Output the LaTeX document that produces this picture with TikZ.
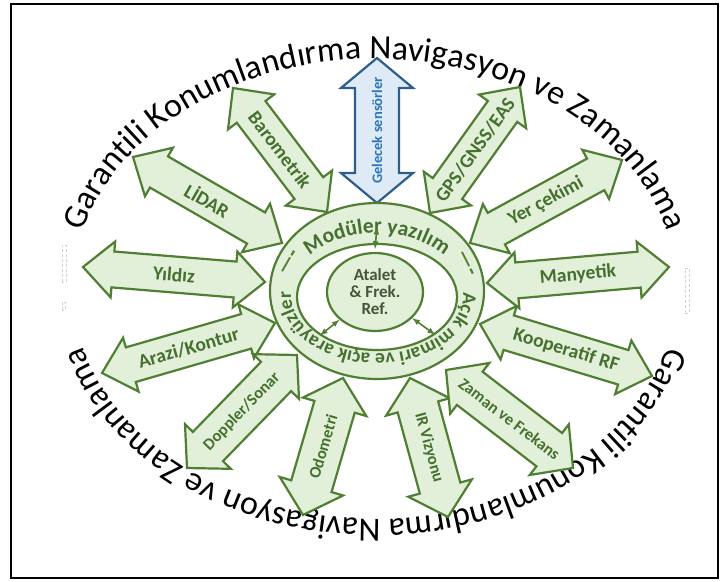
\documentclass[tikz,border=0pt]{standalone}
\usepackage{fontspec}
\setmainfont{Carlito}
\usetikzlibrary{shapes.geometric, decorations.text}

\definecolor{leaf}{HTML}{E2EFD9}
\definecolor{leafline}{HTML}{507E32}
\definecolor{leaftext}{HTML}{46702F}
\definecolor{sky}{HTML}{DEEBF7}
\definecolor{skyline}{HTML}{2F5D8A}
\definecolor{skytext}{HTML}{2E74B5}
\definecolor{coretext}{HTML}{44553A}

\newcommand{\titlesize}{\fontsize{34}{36}\selectfont}
\newcommand{\ringsize}{\bfseries\fontsize{21.5}{22}\selectfont}
\newcommand{\ringsmall}{\bfseries\fontsize{19.5}{20}\selectfont}

\tikzstyle{ringline}=[draw=leafline, line width=2.2pt]
\tikzstyle{coreconn}=[latex-latex, draw=leafline, line width=1.6pt]
\tikzstyle{dashmark}=[text=leafline, font=\bfseries\fontsize{22}{22}\selectfont, inner sep=0pt]
\tikzset{
  greenset/.style={arrowbody/.style={draw=leafline, fill=leaf, line width=2.2pt},
    arrowlabel/.style={text=leaftext, inner sep=0pt, font=\bfseries\fontsize{19.5}{21}\selectfont}},
  greenlow/.style={greenset, arrowlabel/.append style={font=\bfseries\fontsize{16.5}{18}\selectfont}},
  blueset/.style={arrowbody/.style={draw=skyline, fill=sky, line width=2.2pt},
    arrowlabel/.style={text=skytext, inner sep=0pt, font=\bfseries\fontsize{14.5}{16}\selectfont}}
}

% #1 name, #2-#5 tips, #6 half shaft, #7 half head, #8 colour set, #9 label
\newcommand{\sensorarrow}[9]{%
  \pgfmathsetmacro\arrlen{veclen(#4-#2,#5-#3)}%
  \pgfmathsetmacro\arrang{atan2(#5-#3,#4-#2)}%
  \begin{scope}[#8]
    \draw[arrowbody, shift={(#2,#3)}, rotate=\arrang] (0,0) -- (30,#7) -- (30,#6)
      -- (\arrlen-30,#6) -- (\arrlen-30,#7) -- (\arrlen,0) -- (\arrlen-30,-#7)
      -- (\arrlen-30,-#6) -- (30,-#6) -- (30,-#7) -- cycle;
    \node[arrowlabel, rotate=\arrang] (#1) at ({(#2+#4)/2},{(#3+#5)/2}) {#9};
  \end{scope}}

\begin{document}
\begin{tikzpicture}[x=1pt, y=1pt]
  \useasboundingbox (0,0) rectangle (728,581);
  \draw[line width=1.5pt] (11,3) rectangle (718,577);

  % title round the picture
  \path[decorate, decoration={text along path, text align=center,
      text={|\titlesize|Garantili Konumlandırma Navigasyon ve Zamanlama}}]
    (375,291) ++(168:302pt and 231pt) arc[start angle=168, end angle=12, x radius=302pt, y radius=231pt];
  \path[decorate, decoration={text along path, text align=center,
      text={|\titlesize|Garantili Konumlandırma Navigasyon ve Zamanlama}}]
    (375,293) ++(-16:302pt and 231pt) arc[start angle=-16, end angle=-164, x radius=302pt, y radius=231pt];

  % small grey marks
  \draw[gray!35, densely dashed, line width=0.5pt] (62,299) rectangle (66,336);
  \draw[gray!35, densely dashed, line width=0.5pt] (62,271) rectangle (65,279);
  \draw[gray!35, densely dashed, line width=0.5pt] (685,268) rectangle (689,313);

  % sensors
  \sensorarrow{yildiz}{83}{314}{265}{299}{18}{28}{greenset}{Yıldız}
  \sensorarrow{arazi}{102}{208}{275}{258}{18}{28}{greenset}{Arazi/Kontur}
  \sensorarrow{doppler}{187}{113}{297}{226}{21}{32}{greenlow}{Doppler/Sonar}
  \sensorarrow{odometri}{303}{66}{343}{203}{21}{33}{greenlow}{Odometri}
  \sensorarrow{irvizyon}{410}{203}{448}{64}{21}{33}{greenlow}{IR Vizyonu}
  \sensorarrow{zaman}{446}{211}{573}{113}{21}{32}{greenlow}{Zaman ve Frekans}
  \sensorarrow{kooperatif}{480}{257}{652}{205}{18}{28}{greenset}{Kooperatif RF}
  \sensorarrow{manyetik}{487}{298}{669}{314}{18}{28}{greenset}{Manyetik}
  \sensorarrow{yercekimi}{470}{338}{622}{421}{18}{28}{greenset}{Yer çekimi}
  \sensorarrow{gps}{430}{368}{520}{494}{18}{29}{greenset}{GPS/GNSS/EAS}
  \sensorarrow{gelecek}{377}{378}{377}{523}{22}{36}{blueset}{Gelecek sensörler}
  \sensorarrow{barometrik}{233}{493}{327}{369}{18}{29}{greenset}{Barometrik}
  \sensorarrow{lidar}{133}{424}{282}{338}{18}{28}{greenset}{LİDAR}

  % ring
  \node[ellipse, ringline, fill=leaf, minimum width=214pt, minimum height=176pt] (ringout) at (377,290) {};
  \node[ellipse, ringline, fill=white, minimum width=160pt, minimum height=106pt] (ringin) at (377,284) {};
  \path[decorate, decoration={text along path, text align=center, text color=leaftext,
      text={|\ringsize|Modüler yazılım}}]
    (377,284) ++(150:88pt and 64pt) arc[start angle=150, end angle=30, x radius=88pt, y radius=64pt];
  \path[decorate, decoration={text along path, text align=center, text color=leaftext,
      text={|\ringsmall|Açık mimari ve açık arayüzler}}]
    (377,286) ++(15:86pt and 59pt) arc[start angle=15, end angle=-195, x radius=86pt, y radius=59pt];
  \node[dashmark, rotate=60] (dashl) at (290,318) {----};
  \node[dashmark, rotate=-63] (dashr) at (465,317) {----};

  % core
  \node[ellipse, ringline, fill=leaf, minimum width=96pt, minimum height=78pt, inner sep=0pt,
    align=center, text=coretext, font=\bfseries\fontsize{17}{17}\selectfont] (atalet) at (375,289)
    {Atalet\\\& Frek.\\Ref.};
  \draw[coreconn] ([yshift=3pt]atalet.north) -- ([yshift=16pt]ringin.north);
  \draw[coreconn] (atalet.218) -- (ringin.214);
  \draw[coreconn] (atalet.-35) -- (ringin.-33);
\end{tikzpicture}
\end{document}
